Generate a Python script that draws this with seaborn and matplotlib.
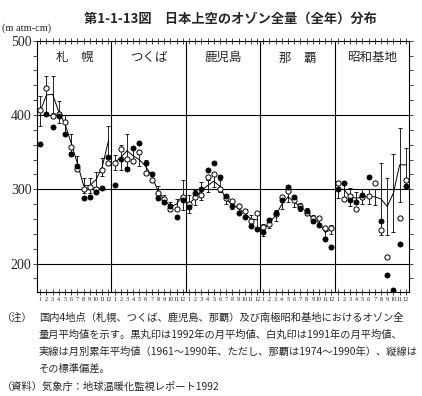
import numpy as np
import pandas as pd
import matplotlib
matplotlib.use("Agg")
import matplotlib.pyplot as plt
import seaborn as sns

# data (m atm-cm)
months = list(range(1, 13))
stations = ["札　幌", "つくば", "鹿児島", "那　覇", "昭和基地"]

sapporo_mean = [405, 427, 428, 404, 388, 362, 335, 305, 305, 313, 330, 365]
sapporo_std = [20, 26, 25, 15, 12, 12, 10, 10, 10, 10, 12, 20]
sapporo_1992 = [361, 402, 384, 399, 374, 348, 331, 288, 290, 296, 302, 343]
sapporo_1991 = [407, 436, 399, 402, 391, 357, 327, 301, 303, 300, 326, 335]

tsukuba_mean = [336, 343, 352, 345, 340, 331, 318, 298, 286, 277, 280, 292]
tsukuba_std = [10, 17, 22, 10, 8, 8, 6, 6, 6, 6, 7, 20]
tsukuba_1992 = [306, 341, 327, 355, 363, 335, 320, 289, 283, 278, 263, 286]
tsukuba_1991 = [335, 354, 341, 338, 350, 322, 313, 295, 287, 273, 273, 290]

kagoshima_mean = [280, 289, 298, 305, 311, 304, 286, 280, 274, 268, 260, 259]
kagoshima_std = [12, 10, 12, 8, 8, 8, 6, 6, 6, 6, 6, 10]
kagoshima_1992 = [276, 295, 300, 326, 335, 317, 291, 277, 268, 263, 250, 247]
kagoshima_1991 = [280, 290, 292, 316, 320, 301, 289, 284, 277, 271, 257, 268]

naha_mean = [245, 255, 265, 280, 290, 283, 276, 270, 260, 255, 242, 246]
naha_std = [8, 7, 7, 7, 7, 7, 5, 5, 5, 5, 6, 6]
naha_1992 = [243, 259, 268, 286, 303, 290, 275, 271, 257, 252, 233, 223]
naha_1991 = [249, 254, 267, 290, 298, 285, 278, 268, 262, 262, 248, 248]

syowa_mean = [300, 300, 290, 288, 290, 290, 290, 287, 277, 295, 333, 333]
syowa_std = [11, 10, 12, 8, 10, 10, 11, 48, 38, 52, 50, 22]
syowa_1992 = [301, 308, 286, 283, 293, 317, np.nan, 257, 185, 165, 226, 304]
syowa_1991 = [309, 287, 291, 274, 290, 291, 308, 245, 209, np.nan, 262, 313]

all_mean = [sapporo_mean, tsukuba_mean, kagoshima_mean, naha_mean, syowa_mean]
all_std = [sapporo_std, tsukuba_std, kagoshima_std, naha_std, syowa_std]
all_1992 = [sapporo_1992, tsukuba_1992, kagoshima_1992, naha_1992, syowa_1992]
all_1991 = [sapporo_1991, tsukuba_1991, kagoshima_1991, naha_1991, syowa_1991]

rows = []
for p, name in enumerate(stations):
	for i, m in enumerate(months):
		rows.append({
			"station": name, "x": p * 12 + m - 0.5,
			"mean": all_mean[p][i], "std": all_std[p][i],
			"y1992": all_1992[p][i], "y1991": all_1991[p][i],
		})
df = pd.DataFrame(rows)

sns.set_style("ticks")
plt.rcParams["font.family"] = ["Noto Sans CJK JP", "DejaVu Sans"]

fig = plt.figure(figsize=(4.22, 3.96), dpi=100)
ax = fig.add_axes([0.088, 0.263, 0.881, 0.634])

for y in (200, 300, 400):
	ax.axhline(y, color="black", lw=0.8, zorder=1)
for xv in (12, 24, 36, 48):
	ax.axvline(xv, color="black", lw=0.8, zorder=1)

for name in stations:
	sub = df[df["station"] == name]
	ax.errorbar(sub["x"], sub["mean"], yerr=sub["std"], fmt="none",
		ecolor="black", elinewidth=0.6, capsize=1.5, capthick=0.6, zorder=2)
	sns.lineplot(data=sub, x="x", y="mean", ax=ax, color="black",
		lw=0.7, zorder=3, legend=False)

sns.scatterplot(data=df, x="x", y="y1991", ax=ax, marker="o", s=14,
	facecolor="white", edgecolor="black", linewidth=0.7, zorder=4, legend=False)
sns.scatterplot(data=df, x="x", y="y1992", ax=ax, marker="o", s=14,
	color="black", edgecolor="black", linewidth=0.5, zorder=5, legend=False)

ax.set_xlim(0, 60)
ax.set_ylim(162, 500)
ax.set_xlabel("")
ax.set_ylabel("")

xt = df["x"].tolist()
ax.set_xticks(xt)
ax.set_xticklabels([str(m) for _ in stations for m in months],
	fontsize=4.5, family=["Liberation Serif"])
ax.tick_params(axis="x", which="major", direction="inout", length=5,
	width=0.6, top=True, pad=1)
ax.set_yticks([200, 300, 400, 500])
ax.set_yticklabels(["200", "300", "400", "500"], fontsize=10,
	family=["Liberation Serif"])
ax.set_yticks(np.arange(180, 500, 20), minor=True)
ax.tick_params(axis="y", which="both", direction="out", length=3,
	width=0.6, right=True, pad=1)
for s in ax.spines.values():
	s.set_linewidth(0.8)
	s.set_color("black")

for p, name in enumerate(stations):
	ax.text(p * 12 + 6, 477, name, ha="center", va="center", fontsize=9)

fig.text(0.545, 0.952, "第1-1-13図　日本上空のオゾン全量（全年）分布",
	ha="center", va="center", fontsize=9.5, fontweight="bold")
fig.text(0.005, 0.928, "(m atm-cm)", ha="left", va="center", fontsize=7.5,
	family=["Liberation Serif"])

notes = [
	"国内4地点（札幌、つくば、鹿児島、那覇）及び南極昭和基地におけるオゾン全",
	"量月平均値を示す。黒丸印は1992年の月平均値、白丸印は1991年の月平均値、",
	"実線は月別累年平均値（1961～1990年、ただし、那覇は1974～1990年）、縦線は",
	"その標準偏差。",
]
fig.text(0.005, 0.197, "（注）", ha="left", va="center", fontsize=7.4)
for i, line in enumerate(notes):
	fig.text(0.092, 0.197 - i * 0.043, line, ha="left", va="center", fontsize=7.4)
fig.text(0.005, 0.022, "（資料）気象庁：地球温暖化監視レポート1992",
	ha="left", va="center", fontsize=7.4)

fig.savefig("out.png", dpi=100)
